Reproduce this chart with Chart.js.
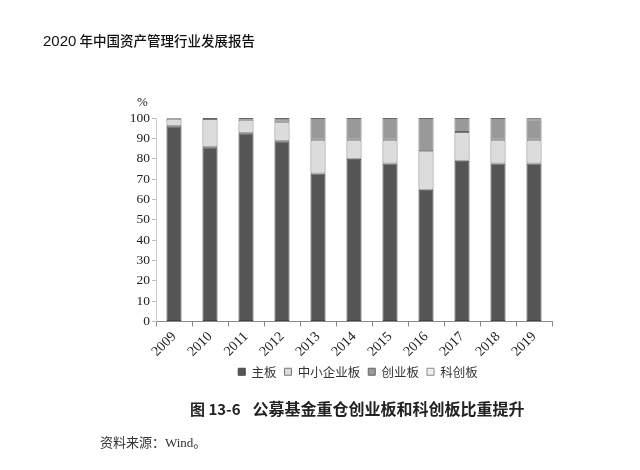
<!DOCTYPE html>
<html lang="zh">
<head>
  <meta charset="UTF-8">
  <title>公募基金重仓创业板和科创板比重提升</title>
  <script src="https://cdn.jsdelivr.net/npm/chart.js"></script>
  <style>
    html, body {
      margin: 0;
      padding: 0;
      background: #ffffff;
    }
    .page {
      position: relative;
      width: 640px;
      height: 470px;
      overflow: hidden;
    }
    canvas {
      position: absolute;
      left: 0;
      top: 0;
    }
    .txt {
      position: absolute;
      white-space: nowrap;
      color: #222;
    }
    .header {
      left: 43px;
      top: 30px;
      font-family: 'Noto Sans CJK SC', sans-serif;
      font-size: 13.5px;
      font-weight: 500;
      color: #111;
    }
    .header .num {
      font-family: 'Liberation Sans Narrow', 'Liberation Sans', sans-serif;
      font-size: 15px;
    }
    .unit {
      left: 137px;
      top: 94px;
      font-family: 'Liberation Serif', serif;
      font-size: 13px;
    }
    .caption {
      left: 190px;
      top: 396px;
      font-family: 'Noto Sans CJK SC', sans-serif;
      font-size: 16px;
      font-weight: bold;
    }
    .caption span {
      font-size: 15px;
      margin-right: 12px;
    }
    .source {
      left: 100px;
      top: 432px;
      font-family: 'Liberation Serif', 'Noto Sans CJK SC', serif;
      font-size: 13px;
      color: #333;
    }
  </style>
</head>
<body>
<div class="page">
  <canvas id="chart" width="640" height="470"></canvas>
  <div class="txt header"><span class="num">2020</span> 年中国资产管理行业发展报告</div>
  <div class="txt unit">%</div>
  <div class="txt caption"><span>图 13-6</span>公募基金重仓创业板和科创板比重提升</div>
  <div class="txt source">资料来源：Wind。</div>
</div>

<script>
  // 年份
  const years = ['2009', '2010', '2011', '2012', '2013', '2014', '2015', '2016', '2017', '2018', '2019'];
  // 各板块占比（%）
  const zhuban    = [95.9, 85.6, 92.5, 88.6, 72.7, 80.0, 77.7, 64.8, 79.0, 77.7, 77.7];
  const zhongxiao = [3.7, 13.9, 6.7, 9.6, 16.6, 9.3, 11.6, 18.8, 14.1, 11.6, 11.6];
  const chuangye  = [0.4, 0.5, 0.8, 1.8, 10.7, 10.7, 10.7, 16.4, 6.9, 10.7, 10.1];
  const kechuang  = [0, 0, 0, 0, 0, 0, 0, 0, 0, 0, 0.6];
  const yTicks = [0, 10, 20, 30, 40, 50, 60, 70, 80, 90, 100];

  function makeSet(label, data, fill, border) {
    return {
      label: label,
      data: data,
      backgroundColor: fill,
      borderColor: border,
      borderWidth: 1,
      borderSkipped: false,
      barPercentage: 0.5,
      categoryPercentage: 0.84
    };
  }

  // 图例整体右移，与原图对齐
  const legendShift = {
    id: 'legendShift',
    afterLayout(chart) {
      chart.legend.left += 24;
      chart.legend.right += 24;
    }
  };

  const ctx = document.getElementById('chart').getContext('2d');
  new Chart(ctx, {
    type: 'bar',
    data: {
      labels: years,
      datasets: [
        makeSet('主板', zhuban, '#555555', '#444444'),
        makeSet('中小企业板', zhongxiao, '#dcdcdc', '#777777'),
        makeSet('创业板', chuangye, '#999999', '#666666'),
        makeSet('科创板', kechuang, '#f0f0f0', '#888888')
      ]
    },
    plugins: [legendShift],
    options: {
      responsive: false,
      animation: false,
      devicePixelRatio: 1,
      layout: { padding: { left: 116, right: 88, top: 118, bottom: 82 } },
      plugins: {
        tooltip: { enabled: false },
        legend: {
          position: 'bottom',
          labels: {
            boxWidth: 7,
            boxHeight: 7,
            padding: 8,
            color: '#333',
            font: { family: "'Noto Sans CJK SC', sans-serif", size: 12.5 }
          }
        }
      },
      scales: {
        x: {
          stacked: true,
          afterFit: function (s) { s.height = 36; },
          grid: { drawOnChartArea: false, tickLength: 5, color: '#888', offset: true },
          border: { color: '#888', width: 1 },
          ticks: {
            minRotation: 45,
            maxRotation: 45,
            padding: 2,
            color: '#222',
            font: { family: "'Liberation Serif', serif", size: 14 }
          }
        },
        y: {
          stacked: true,
          min: 0,
          max: 100,
          afterFit: function (s) { s.width = 40; },
          afterBuildTicks: function (s) { s.ticks = yTicks.map(v => ({ value: v })); },
          grid: { drawOnChartArea: false, tickLength: 4, color: '#bbb' },
          border: { color: '#ccc', width: 1 },
          ticks: {
            padding: 2,
            color: '#222',
            font: { family: "'Liberation Serif', serif", size: 13.5 }
          }
        }
      }
    }
  });
</script>
</body>
</html>
